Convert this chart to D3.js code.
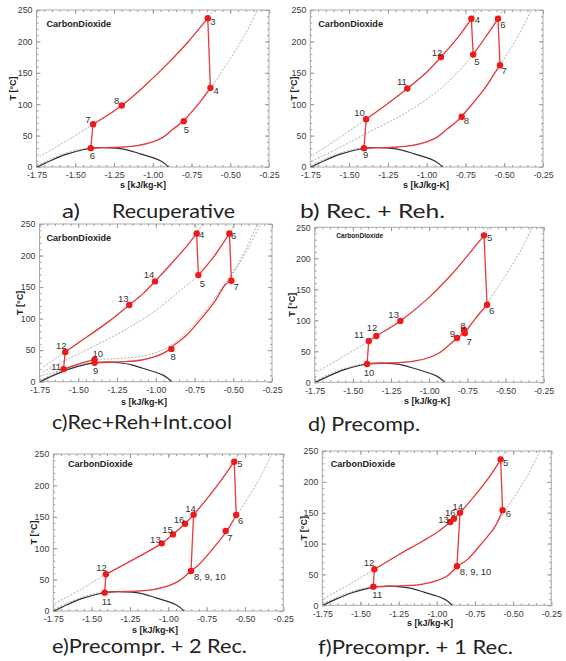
<!DOCTYPE html>
<html lang="en">
<head>
<meta charset="UTF-8">
<title>CO2 cycles T-s</title>
<script src="https://cdn.jsdelivr.net/npm/d3@7"></script>
<style>
  body { margin: 0; background: #fff; }
  svg { display: block; }
  text { font-family: "Liberation Sans", Arial, sans-serif; }
  .cap { font-family: Lato, "Open Sans", sans-serif; fill: #222; }
</style>
</head>
<body>
<div id="fig"></div>
<script>
// ---- data: [s kJ/kg-K, T degC] ----
const sTicks = [-1.75, -1.50, -1.25, -1.00, -0.75, -0.50, -0.25];
const tTicks = [0, 50, 100, 150, 200, 250];

// saturation dome
const dome = [[-1.745,0],[-1.66,10],[-1.56,20],[-1.45,27.5],[-1.38,30.5],[-1.31,31],[-1.24,30],
              [-1.16,27],[-1.08,21],[-1.00,15],[-0.95,10],[-0.92,5],[-0.90,0]];

// low pressure isobar (same in every panel)
const lowIsobar = [[-1.745,2],[-1.66,12.5],[-1.56,22],[-1.47,28],[-1.40,30],[-1.30,30.8],[-1.20,31.8],
                   [-1.10,34],[-1.00,40],[-0.93,48],[-0.87,60],[-0.80,74],[-0.70,102],[-0.62,127],
                   [-0.55,154],[-0.48,180],[-0.40,213],[-0.325,250]];

// a) Recuperative
const aStates = [["3",-0.645,237],["4",-0.628,126],["5",-0.80,73],["6",-1.40,30],["7",-1.385,68],["8",-1.20,98]];
const aHigh = [[-1.73,17],[-1.56,41],[-1.385,68],[-1.20,98],[-1.04,132],[-0.91,163],[-0.78,197],[-0.645,237],[-0.61,250]];
const aCycle = [["6","7"],["7","3","hi"],["3","4"],["4","6","lo"]];

// b) Rec. + Reh.
const bStates = [["4",-0.712,236],["5",-0.70,179],["6",-0.54,236],["7",-0.527,162],["8",-0.774,80],
                 ["9",-1.404,30],["10",-1.39,76],["11",-1.125,125],["12",-0.908,175]];
const bHigh = [[-1.733,19],[-1.56,47],[-1.39,76],[-1.25,101],[-1.125,125],[-1.00,151],[-0.908,175],[-0.80,206],[-0.712,236],[-0.675,250]];
const bReheat = [[-1.74,9],[-1.60,26],[-1.40,52],[-1.13,87],[-0.895,128],[-0.70,179],[-0.62,207],[-0.54,236],[-0.505,250]];
const bCycle = [["9","10"],["10","4","hi"],["4","5"],["5","6","rh"],["6","7"],["7","9","lo"]];

// c) Rec+Reh+Int.cool
const cStates = [["4",-0.736,235],["5",-0.725,169],["6",-0.525,235],["7",-0.512,160],["8",-0.899,52],
                 ["9",-1.395,30],["10",-1.395,35],["11",-1.595,20],["12",-1.584,47],["13",-1.171,121.6],["14",-1.005,159]];
const cHigh = [[-1.725,24],[-1.584,47],[-1.45,70],[-1.30,96],[-1.171,121.6],[-1.08,140],[-1.005,159],[-0.90,187],[-0.80,215],[-0.736,235],[-0.70,250]];
const cReheat = [[-1.725,16],[-1.55,38],[-1.40,56],[-1.20,82],[-1.00,113],[-0.85,143],[-0.725,169],[-0.62,200],[-0.525,235],[-0.49,250]];
const cInter = [[-1.73,10],[-1.595,20],[-1.50,28],[-1.395,35],[-1.30,36],[-1.20,37.5],[-1.10,40],[-1.00,46],[-0.92,55],
                [-0.85,67],[-0.75,92],[-0.65,122],[-0.55,157],[-0.45,195],[-0.345,250]];
const cCycle = [["11","12"],["12","4","hi"],["4","5"],["5","6","rh"],["6","7"],["7","9","lo"],["9","10"],["10","11","ic"]];

// d) Precomp.
const dStates = [["5",-0.641,237],["6",-0.621,125],["7",-0.767,79],["8",-0.772,84.4],["9",-0.818,71.5],
                 ["10",-1.407,29.6],["11",-1.396,66.7],["12",-1.346,74.7],["13",-1.189,99]];
const dHigh = [[-1.733,17],[-1.56,42],[-1.396,66.7],[-1.346,74.7],[-1.189,99],[-1.00,137],[-0.85,175],[-0.75,204],[-0.641,237],[-0.61,250]];
const dCycle = [["10","11"],["11","5","hi"],["5","6"],["6","7","lo"],["7","8"],["8","9","lo"],["9","10","lo"]];

// e) Precompr. + 2 Rec.
const eStates = [["5",-0.570,237.8],["6",-0.557,152.9],["7",-0.626,127.4],["8, 9, 10",-0.852,63.7],["11",-1.415,29.2],
                 ["12",-1.407,58.4],["13",-1.043,107.7],["14",-0.835,153.4],["15",-0.970,122],["16",-0.891,139]];
const eHigh = [[-1.739,12],[-1.56,36],[-1.407,58.4],[-1.22,83],[-1.043,107.7],[-0.970,122],[-0.891,139],[-0.835,153.4],
               [-0.75,178],[-0.65,210],[-0.570,237.8],[-0.54,250]];
const eCycle = [["11","12"],["12","5","hi"],["5","6"],["6","8, 9, 10","lo"],["8, 9, 10","14"],["8, 9, 10","11","lo"]];

// f) Precompr. + 1 Rec.
const fStates = [["5",-0.582,236.5],["6",-0.569,153.9],["8, 9, 10",-0.868,63.2],["11",-1.416,30.2],["12",-1.409,58.3],
                 ["13",-0.912,135],["16",-0.888,140.4],["14",-0.848,150.1]];
const fHigh = [[-1.739,11],[-1.56,36],[-1.409,58.3],[-1.25,82],[-1.10,103],[-1.00,118],[-0.912,135],[-0.888,140.4],
               [-0.848,150.1],[-0.75,178],[-0.65,210],[-0.582,236.5],[-0.55,250]];
const fCycle = [["11","12"],["12","5","hi"],["5","6"],["6","8, 9, 10","lo"],["8, 9, 10","14"],["8, 9, 10","11","lo"]];

const captions = ["a)", "Recuperative", "b) Rec. + Reh.", "c)Rec+Reh+Int.cool", "d) Precomp.",
                  "e)Precompr. + 2 Rec.", "f)Precompr. + 1 Rec."];

// ---- layout ----
const panels = [
  { id: "a", x0: 36.5, x1: 269, yTop: 10, yBot: 167, states: aStates, cycle: aCycle,
    iso: { hi: aHigh, lo: lowIsobar }, tX: 13, sX: 143, sY: 188, name: [10, 16.7, 9.1],
    lab: { "3":[5,3.7], "4":[5.7,2.7], "5":[2.7,8.3], "6":[1.7,7.7], "7":[-5.3,-5], "8":[-5,-5] } },
  { id: "b", x0: 310.3, x1: 543, yTop: 10, yBot: 167, states: bStates, cycle: bCycle,
    iso: { hi: bHigh, rh: bReheat, lo: lowIsobar }, tX: 293.7, sX: 426, sY: 188, name: [8, 16.7, 9.1],
    lab: { "4":[6,1], "5":[3.7,6.7], "6":[5,6], "7":[4,5], "8":[4.7,4.3], "9":[1.7,6.3], "10":[-6.7,-6.3], "11":[-5.3,-6.7], "12":[-4,-4.3] } },
  { id: "c", x0: 39.5, x1: 272, yTop: 224, yBot: 381.7, states: cStates, cycle: cCycle,
    iso: { hi: cHigh, rh: cReheat, ic: cInter, lo: lowIsobar }, tX: 20, sX: 144, sY: 405, name: [7, 17, 9.1],
    lab: { "4":[5,1.7], "5":[4,8.3], "6":[4.3,2.7], "7":[4.7,6], "8":[1.7,8], "9":[1,8], "10":[3.3,-6], "11":[-7.3,-2.3], "12":[-4,-6], "13":[-6,-6.7], "14":[-6,-6.3] } },
  { id: "d", x0: 314.7, x1: 543.7, yTop: 227.3, yBot: 382.3, states: dStates, cycle: dCycle,
    iso: { hi: dHigh, lo: lowIsobar }, tX: 292.3, sX: 427, sY: 404, name: [21.6, 11, 6.6],
    lab: { "5":[5.7,2], "6":[4.7,6], "7":[4.3,8.3], "8":[-1,-4.7], "9":[-4.7,-4.7], "10":[2,8.7], "11":[-9.7,-6], "12":[-4.3,-8.7], "13":[-6.7,-6] } },
  { id: "e", x0: 53.3, x1: 283.3, yTop: 454, yBot: 611, states: eStates, cycle: eCycle,
    iso: { hi: eHigh, lo: lowIsobar }, tX: 34.3, sX: 155, sY: 633, name: [14.7, 13.3, 9.1],
    lab: { "5":[5.7,2.3], "6":[4.3,5.7], "7":[4.3,6.3], "8, 9, 10":[3,5.7,"start"], "11":[2,9], "12":[-4.3,-7], "13":[-6.3,-3.3], "14":[-3,-5.7], "15":[-5.3,-4.3], "16":[-6,-4.3] } },
  { id: "f", x0: 322.3, x1: 551.3, yTop: 451, yBot: 605.3, states: fStates, cycle: fCycle,
    iso: { hi: fHigh, lo: lowIsobar }, tX: 303.7, sX: 430, sY: 626, name: [8.4, 15.7, 9.1],
    lab: { "5":[5,3], "6":[5.7,3.7], "8, 9, 10":[2.7,5.3,"start"], "11":[4,7.7], "12":[-5.3,-6.7], "13":[-6.7,-2], "16":[-3.7,-6], "14":[-2.3,-6] } }
];

const capPos = [ [62, 218, 18], [112, 218, 123], [300, 218, 145], [52, 429, 180], [308, 431, 112], [52, 653, 195], [318, 654, 195] ];

const svg = d3.select("#fig").append("svg").attr("width", 566).attr("height", 661);

panels.forEach(p => {
  const x = d3.scaleLinear().domain([-1.75, -0.25]).range([p.x0, p.x1]);
  const y = d3.scaleLinear().domain([0, 250]).range([p.yBot, p.yTop]);
  const g = svg.append("g");
  const clipId = "clip-" + p.id;
  g.append("clipPath").attr("id", clipId).append("rect")
    .attr("x", p.x0).attr("y", p.yTop).attr("width", p.x1 - p.x0).attr("height", p.yBot - p.yTop);

  const minorS = d3.ticks(-1.75, -0.25, 30);
  const minorT = d3.range(0, 251, 10);

  function styleAxis(sel) {
    sel.select(".domain").remove();
    sel.selectAll(".tick line").attr("stroke", "#999");
    sel.selectAll("text").attr("fill", "#3a3a3a").attr("font-size", 8.8)
      .attr("font-family", '"Liberation Sans", Arial, sans-serif');
  }

  // minor ticks, all four sides
  g.append("g").attr("transform", `translate(0,${p.yBot})`)
    .call(d3.axisBottom(x).tickValues(minorS).tickSize(-2).tickFormat("")).call(styleAxis);
  g.append("g").attr("transform", `translate(0,${p.yTop})`)
    .call(d3.axisTop(x).tickValues(minorS).tickSize(-2).tickFormat("")).call(styleAxis);
  g.append("g").attr("transform", `translate(${p.x0},0)`)
    .call(d3.axisLeft(y).tickValues(minorT).tickSize(-2).tickFormat("")).call(styleAxis);
  g.append("g").attr("transform", `translate(${p.x1},0)`)
    .call(d3.axisRight(y).tickValues(minorT).tickSize(-2).tickFormat("")).call(styleAxis);

  // major ticks + labels
  g.append("g").attr("transform", `translate(0,${p.yBot})`)
    .call(d3.axisBottom(x).tickValues(sTicks).tickSizeInner(-4).tickSizeOuter(0).tickPadding(5).tickFormat(d => d.toFixed(2)))
    .call(styleAxis);
  g.append("g").attr("transform", `translate(0,${p.yTop})`)
    .call(d3.axisTop(x).tickValues(sTicks).tickSize(-4).tickFormat("")).call(styleAxis);
  g.append("g").attr("transform", `translate(${p.x0},0)`)
    .call(d3.axisLeft(y).tickValues(tTicks).tickSizeInner(-4).tickSizeOuter(0).tickPadding(4))
    .call(styleAxis);
  g.append("g").attr("transform", `translate(${p.x1},0)`)
    .call(d3.axisRight(y).tickValues(tTicks).tickSize(-4).tickFormat("")).call(styleAxis);

  // frame
  g.append("rect").attr("x", p.x0).attr("y", p.yTop).attr("width", p.x1 - p.x0).attr("height", p.yBot - p.yTop)
    .attr("fill", "none").attr("stroke", "#aaa").attr("stroke-width", 1);

  // axis titles
  g.append("text").attr("transform", `translate(${p.tX + 3},${(p.yTop + p.yBot) / 2}) rotate(-90)`)
    .attr("text-anchor", "middle").attr("font-size", 9).attr("font-weight", "bold").attr("fill", "#222")
    .text("T [°C]");
  g.append("text").attr("x", p.sX).attr("y", p.sY).attr("text-anchor", "middle")
    .attr("font-size", 9).attr("font-weight", "bold").attr("fill", "#222").text("s [kJ/kg-K]");

  g.append("text").attr("x", p.x0 + p.name[0]).attr("y", p.yTop + p.name[1])
    .attr("font-size", p.name[2]).attr("font-weight", "bold").attr("fill", "#222").text("CarbonDioxide");

  const line = d3.line().x(d => x(d[0])).y(d => y(d[1])).curve(d3.curveCatmullRom.alpha(0.5));
  const plot = g.append("g").attr("clip-path", `url(#${clipId})`);

  // isobars
  Object.values(p.iso).forEach(arr => {
    plot.append("path").attr("d", line(arr)).attr("fill", "none")
      .attr("stroke", "#9a9a9a").attr("stroke-width", 0.8).attr("stroke-dasharray", "2,1.5");
  });
  // dome
  plot.append("path").attr("d", line(dome)).attr("fill", "none").attr("stroke", "#333").attr("stroke-width", 1.2);

  // cycle
  const st = {};
  p.states.forEach(d => st[d[0]] = [d[1], d[2]]);
  p.cycle.forEach(seg => {
    const a = st[seg[0]], b = st[seg[1]];
    let pts = [a, b];
    if (seg[2]) {
      const lo = Math.min(a[0], b[0]), hi = Math.max(a[0], b[0]);
      const mid = p.iso[seg[2]].filter(q => q[0] > lo + 0.008 && q[0] < hi - 0.008);
      pts = [a, ...mid, b].sort((u, v) => u[0] - v[0]);
    }
    plot.append("path").attr("d", line(pts)).attr("fill", "none")
      .attr("stroke", "#e8393c").attr("stroke-width", 1.3);
  });

  g.selectAll(".pt").data(p.states).join("circle")
    .attr("cx", d => x(d[1])).attr("cy", d => y(d[2])).attr("r", 3.2).attr("fill", "#f01818");

  g.selectAll(".lab").data(p.states).join("text")
    .attr("x", d => x(d[1]) + p.lab[d[0]][0]).attr("y", d => y(d[2]) + p.lab[d[0]][1])
    .attr("dy", "0.35em").attr("text-anchor", d => p.lab[d[0]][2] || "middle")
    .attr("font-size", 9.5).attr("fill", "#333").text(d => d[0]);
});

captions.forEach((c, i) => {
  svg.append("text").attr("class", "cap").attr("x", capPos[i][0]).attr("y", capPos[i][1])
    .attr("font-size", 20).attr("textLength", capPos[i][2]).attr("lengthAdjust", "spacingAndGlyphs")
    .text(c);
});
</script>
</body>
</html>
